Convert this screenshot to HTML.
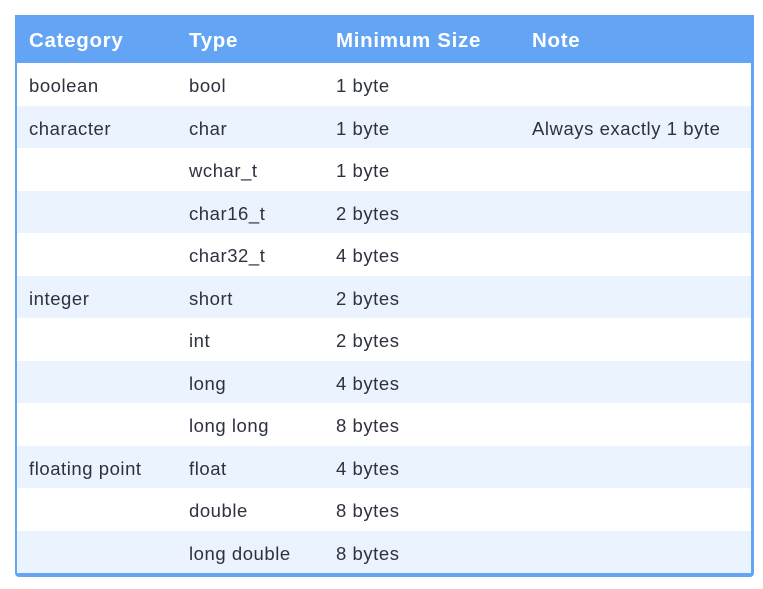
<!DOCTYPE html>
<html><head><style>
body{margin:0;background:#fff;width:763px;height:589px;overflow:hidden;font-family:"Liberation Sans",sans-serif;}
.t{position:absolute;left:15px;top:15px;width:734px;border-left:2px solid #63a4f5;border-right:3px solid #63a4f5;border-bottom:4px solid #63a4f5;border-radius:0 0 4px 4px;}
.r{position:relative;height:42.5px;}
.h{height:48px;background:#63a4f5;color:#fff;font-weight:bold;font-size:20.5px;letter-spacing:0.7px;}
.r span{position:absolute;top:50%;transform:translateY(-42%);white-space:nowrap;}
.b{font-size:18.5px;color:#2e3140;letter-spacing:0.55px;}
.a{background:#ebf3fe;}
.c1{left:12px}.c2{left:172px}.c3{left:319px}.c4{left:515px}
</style></head><body>
<div class="t">
<div class="r h"><span class="c1">Category</span><span class="c2">Type</span><span class="c3">Minimum Size</span><span class="c4">Note</span></div>
<div class="r b"><span class="c1">boolean</span><span class="c2">bool</span><span class="c3">1 byte</span></div>
<div class="r b a"><span class="c1">character</span><span class="c2">char</span><span class="c3">1 byte</span><span class="c4">Always exactly 1 byte</span></div>
<div class="r b"><span class="c2">wchar_t</span><span class="c3">1 byte</span></div>
<div class="r b a"><span class="c2">char16_t</span><span class="c3">2 bytes</span></div>
<div class="r b"><span class="c2">char32_t</span><span class="c3">4 bytes</span></div>
<div class="r b a"><span class="c1">integer</span><span class="c2">short</span><span class="c3">2 bytes</span></div>
<div class="r b"><span class="c2">int</span><span class="c3">2 bytes</span></div>
<div class="r b a"><span class="c2">long</span><span class="c3">4 bytes</span></div>
<div class="r b"><span class="c2">long long</span><span class="c3">8 bytes</span></div>
<div class="r b a"><span class="c1">floating point</span><span class="c2">float</span><span class="c3">4 bytes</span></div>
<div class="r b"><span class="c2">double</span><span class="c3">8 bytes</span></div>
<div class="r b a"><span class="c2">long double</span><span class="c3">8 bytes</span></div>
</div>
</body></html>
